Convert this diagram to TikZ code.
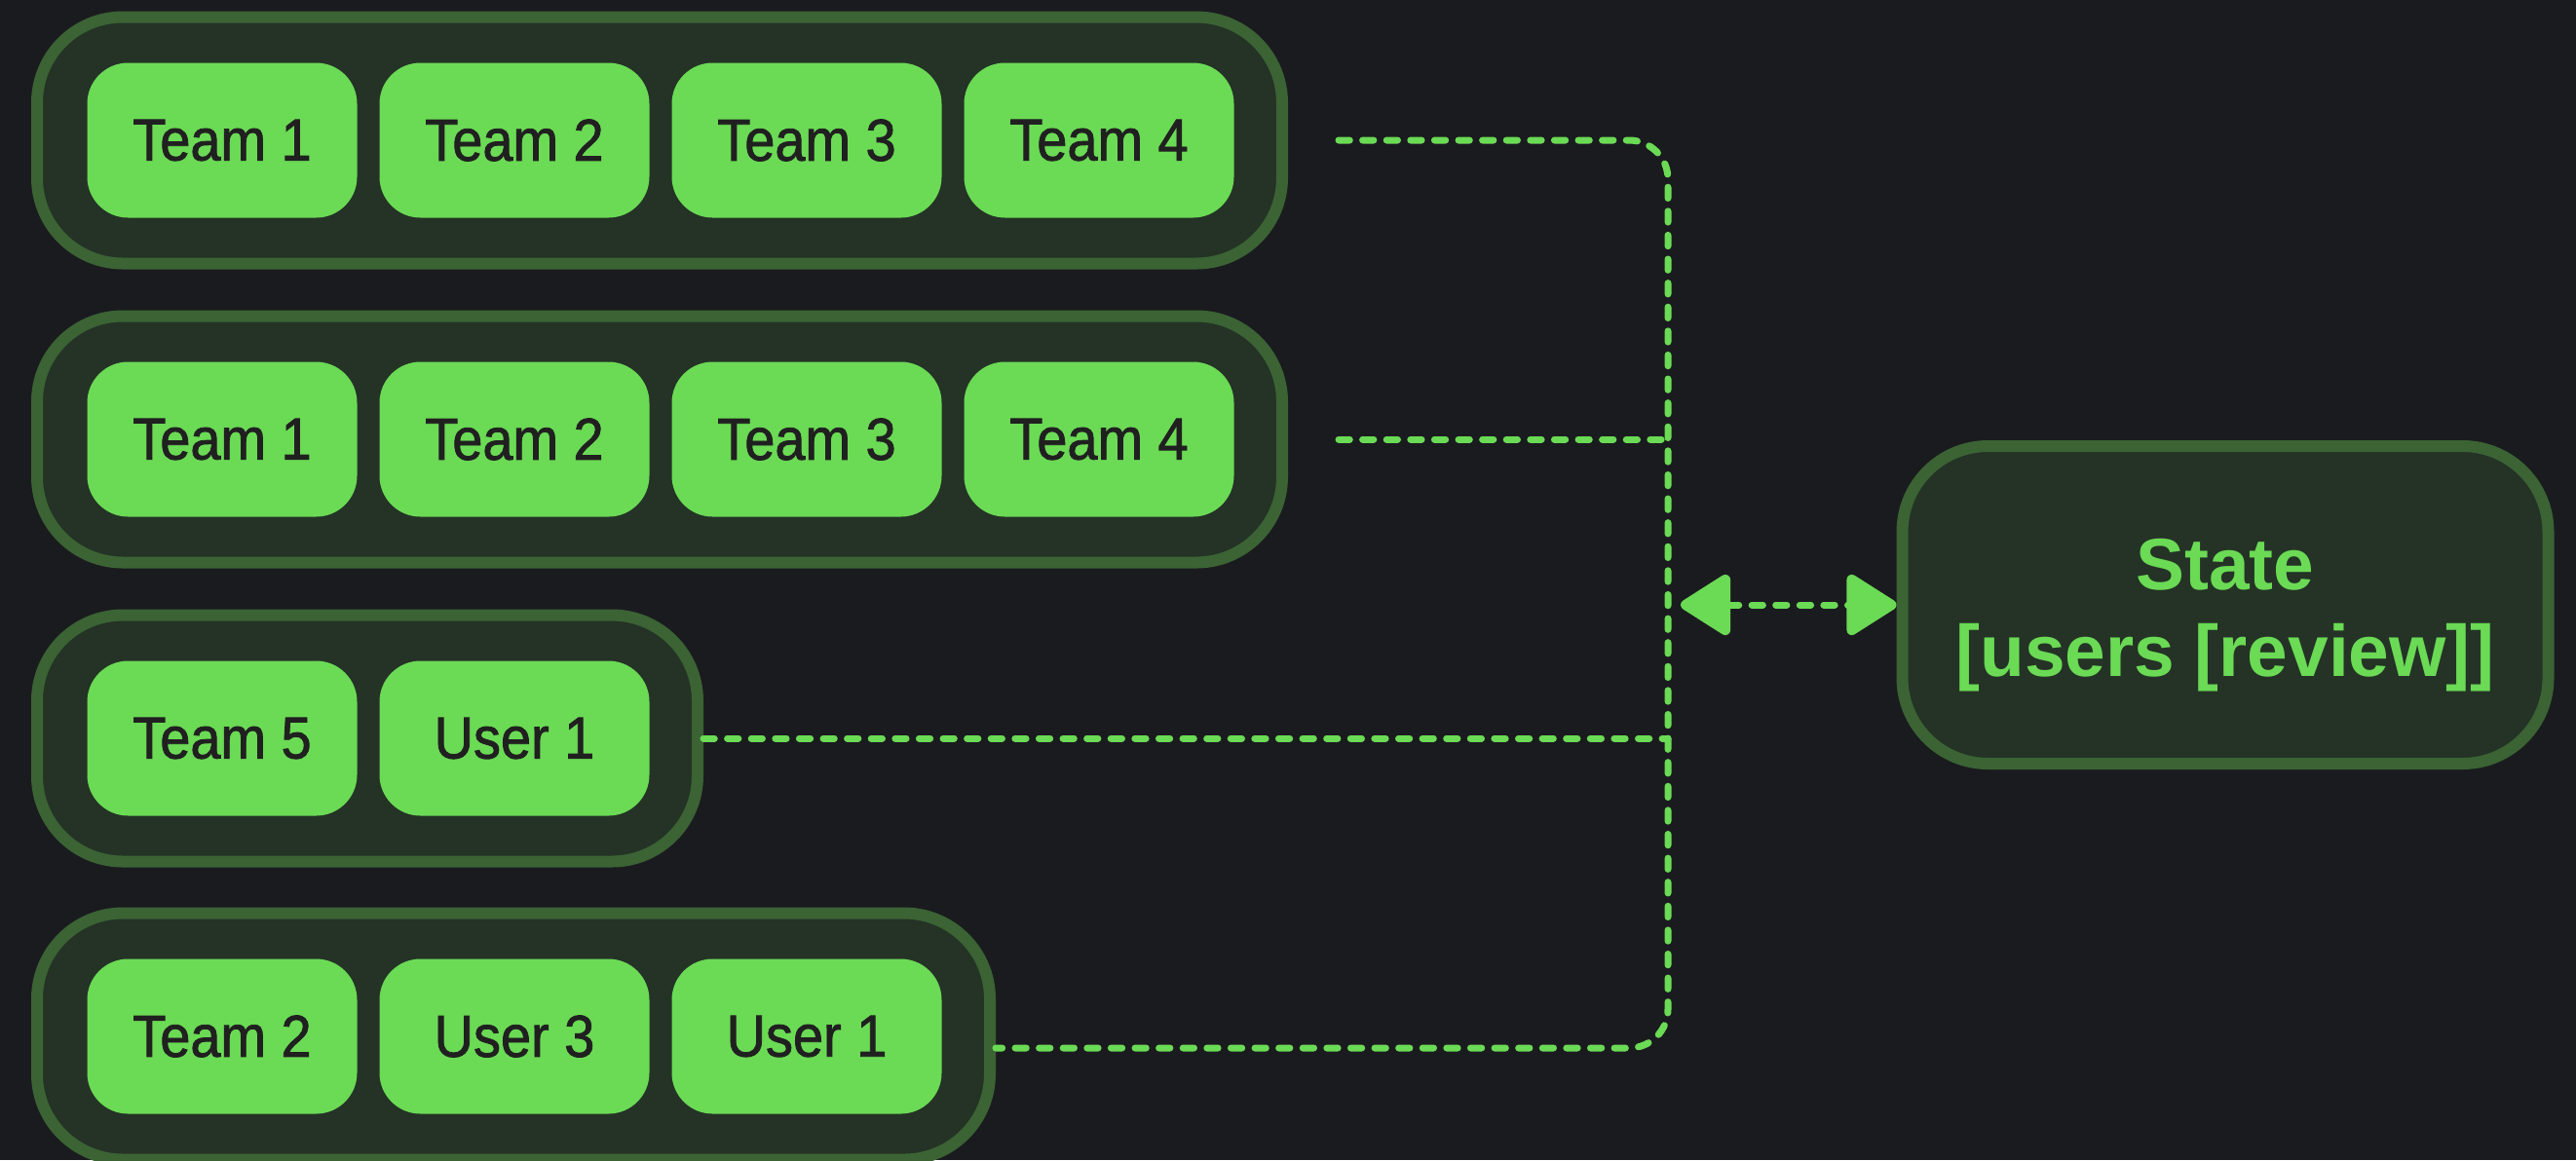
\documentclass[tikz,border=0pt]{standalone}
\usepackage{fontspec}
\setmainfont{Liberation Sans}
\newfontfamily\teamfont{Liberation Sans}[FakeStretch=0.92,FakeBold=1.3]
\usetikzlibrary{arrows.meta}
\definecolor{bg}{HTML}{1A1B1F}
\definecolor{groupfill}{HTML}{243326}
\definecolor{groupline}{HTML}{3B6334}
\definecolor{leaf}{HTML}{6BDA55}
\definecolor{ink}{HTML}{202020}

\begin{document}
\begin{tikzpicture}[
    group/.style={rectangle,rounded corners=0.88cm,fill=groupfill,draw=groupline,line width=0.12cm,minimum height=2.53cm},
    member/.style={rectangle,rounded corners=0.42cm,fill=leaf,minimum width=2.77cm,minimum height=1.59cm,text=ink,font=\teamfont\fontsize{17.3}{20}\selectfont},
    link/.style={leaf,line width=2pt,line cap=round,dash pattern=on 3.2pt off 3.8pt},
    roundtip/.tip={Triangle[round,line width=3pt,length=0.56cm,width=0.68cm]}]
    \useasboundingbox (0,0) rectangle (26.44,-11.91);
    \fill[bg] (0,0) rectangle (26.44,-11.91);

    \node[group,minimum width=12.78cm] (g1) at (6.77,-1.44)  {};
    \node[group,minimum width=12.78cm] (g2) at (6.77,-4.51)  {};
    \node[group,minimum width=6.78cm]  (g3) at (3.77,-7.58)  {};
    \node[group,minimum width=9.78cm]  (g4) at (5.27,-10.64) {};

    \node[member] (a1) at (2.28,-1.44) {Team 1};
    \node[member] (a2) at (5.28,-1.44) {Team 2};
    \node[member] (a3) at (8.28,-1.44) {Team 3};
    \node[member] (a4) at (11.28,-1.44) {Team 4};

    \node[member] (b1) at (2.28,-4.51) {Team 1};
    \node[member] (b2) at (5.28,-4.51) {Team 2};
    \node[member] (b3) at (8.28,-4.51) {Team 3};
    \node[member] (b4) at (11.28,-4.51) {Team 4};

    \node[member] (c1) at (2.28,-7.58) {Team 5};
    \node[member] (c2) at (5.28,-7.58) {User 1};

    \node[member] (d1) at (2.28,-10.64) {Team 2};
    \node[member] (d2) at (5.28,-10.64) {User 3};
    \node[member] (d3) at (8.28,-10.64) {User 1};

    \node[group,minimum width=6.63cm,minimum height=3.26cm,text=leaf,align=center,
        font=\bfseries\fontsize{21.3}{25.5}\selectfont] (state) at (22.84,-6.21) {State\rule{0pt}{21pt}\\{[users [review]]}};

    \coordinate (bt) at (17.12,-1.44);
    \coordinate (bm) at (17.12,-6.21);
    \coordinate (bb) at (17.12,-10.76);

    \draw[link,rounded corners=0.4cm] ([xshift=0.52cm]g1.east) -- (bt) -- (bb) -- (g4.east |- bb);
    \draw[link] ([xshift=0.52cm]g2.east) -- (g2.east -| bt);
    \draw[link] (g3.east) -- (g3.east -| bt);
    \draw[link,roundtip-roundtip] ([xshift=0.13cm]bm) -- (state.west);
\end{tikzpicture}
\end{document}
